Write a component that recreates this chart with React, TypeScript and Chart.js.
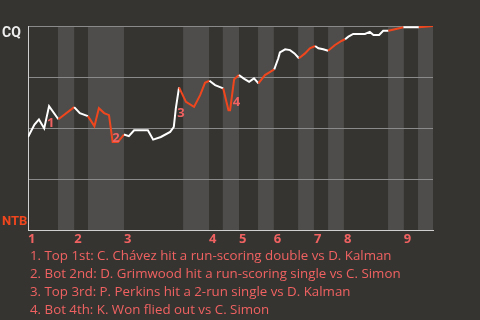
import React, { useEffect, useRef } from 'react';
import { Chart, registerables } from 'chart.js';

Chart.register(...registerables);

// progress through the game (0..100) of each play, and CQ win probability after it
const playX = [0, 1.6, 2.7, 4.0, 5.2, 7.5, 11.4, 12.8, 14.8, 16.4, 17.5, 18.8, 20.0, 20.9, 22.2, 23.7, 24.9, 26.2, 29.6, 30.9, 32.8, 35.1, 36.0, 36.5, 37.3, 39.0, 41.0, 42.5, 43.7, 44.8, 46.2, 48.2, 49.5, 49.9, 50.9, 52.1, 53.2, 54.6, 55.8, 56.9, 58.5, 59.8, 60.8, 61.8, 62.2, 63.5, 64.7, 65.8, 66.9, 68.4, 69.6, 70.9, 71.7, 72.9, 74.1, 75.8, 77.5, 78.3, 79.1, 80.3, 83.2, 84.4, 85.3, 86.7, 87.7, 89.0, 90.6, 92.7, 96.5, 100];
const winProb = [0.457, 0.518, 0.543, 0.499, 0.608, 0.544, 0.603, 0.574, 0.559, 0.510, 0.598, 0.574, 0.564, 0.433, 0.433, 0.469, 0.461, 0.490, 0.490, 0.444, 0.457, 0.482, 0.506, 0.597, 0.700, 0.629, 0.604, 0.662, 0.722, 0.732, 0.711, 0.695, 0.588, 0.588, 0.739, 0.760, 0.744, 0.727, 0.744, 0.719, 0.760, 0.776, 0.788, 0.842, 0.871, 0.886, 0.882, 0.866, 0.842, 0.866, 0.891, 0.902, 0.891, 0.886, 0.879, 0.907, 0.928, 0.935, 0.948, 0.961, 0.961, 0.971, 0.956, 0.956, 0.977, 0.977, 0.984, 0.994, 0.994, 1.0];
// half-inning of each play: T = top (CQ batting), B = bottom (NTB batting)
const battingHalf = ('TTTTTT' + 'B' + 'TT' + 'BBBBBBB' + 'TTTTTTTTT' + 'BBBBB' + 'TT' + 'BBBB' + 'TTTT' + 'BBB' + 'TTTTTT' + 'BBB' + 'TTT' + 'BBB' + 'TTTTTTTT' + 'BB' + 'T' + 'B').split('');

// bottom half-inning spans (shaded)
const bottomStart = [7.4, 14.8, 38.3, 48.1, 56.8, 66.7, 74.1, 88.9, 96.3];
const bottomEnd = [11.4, 23.7, 44.7, 52.1, 60.7, 70.6, 78.0, 92.8, 100];

// inning ticks
const inningStart = [0, 11.4, 23.7, 44.7, 52.1, 60.7, 70.6, 78.0, 92.8];
const inningLabels = ['1', '2', '3', '4', '5', '6', '7', '8', '9'];

// numbered annotations
const annNum = ['1', '2', '3', '4'];
const annX = [5.6, 21.7, 37.8, 51.5];
const annY = [0.522, 0.451, 0.574, 0.627];

const notes = [
  '1. Top 1st: C. Chávez hit a run-scoring double vs D. Kalman',
  '2. Bot 2nd: D. Grimwood hit a run-scoring single vs C. Simon',
  '3. Top 3rd: P. Perkins hit a 2-run single vs D. Kalman',
  '4. Bot 4th: K. Won flied out vs C. Simon',
];

const teamTop = 'CQ';
const teamBottom = 'NTB';

const BG = '#363430';
const BAND = '#4e4d4b';
const WHITE = '#ffffff';
const ORANGE = '#f0461e';
const CORAL = '#f06262';
const FONT = "'Open Sans', sans-serif";
const LABEL_FONT = "Roboto, sans-serif";

export default function App() {
  const ref = useRef<HTMLCanvasElement | null>(null);

  useEffect(() => {
    document.body.style.margin = '0';
    document.body.style.background = BG;
    const canvas = ref.current;
    if (!canvas) return;

    const bandsPlugin = {
      id: 'bands',
      beforeDraw(chart: any) {
        const { ctx, chartArea, scales } = chart;
        ctx.save();
        ctx.fillStyle = BAND;
        for (let i = 0; i < bottomStart.length; i++) {
          const x0 = scales.x.getPixelForValue(bottomStart[i]);
          const x1 = scales.x.getPixelForValue(bottomEnd[i]);
          ctx.fillRect(x0, chartArea.top, x1 - x0, chartArea.bottom - chartArea.top);
        }
        ctx.restore();
      },
      afterDatasetsDraw(chart: any) {
        const { ctx, scales } = chart;
        ctx.save();
        ctx.font = `bold 13px ${FONT}`;
        ctx.textAlign = 'center';
        ctx.textBaseline = 'middle';
        ctx.fillStyle = CORAL;
        for (let i = 0; i < annNum.length; i++) {
          ctx.fillText(annNum[i], scales.x.getPixelForValue(annX[i]), scales.y.getPixelForValue(annY[i]));
        }
        ctx.textAlign = 'left';
        ctx.font = `bold 14px ${LABEL_FONT}`;
        ctx.fillStyle = '#eeeeee';
        ctx.fillText(teamTop, 2, scales.y.getPixelForValue(1) + 7);
        ctx.fillStyle = ORANGE;
        ctx.font = `bold 13px ${LABEL_FONT}`;
        ctx.fillText(teamBottom, 2, scales.y.getPixelForValue(0) - 9);
        ctx.restore();
      },
    };

    const chart = new Chart(canvas, {
      type: 'line',
      data: {
        datasets: [
          {
            data: playX.map((x, i) => ({ x, y: winProb[i] })),
            borderColor: WHITE,
            borderWidth: 2,
            pointRadius: 0,
            tension: 0,
            segment: {
              borderColor: (c: any) => (battingHalf[c.p1DataIndex] === 'B' ? ORANGE : WHITE),
            },
          },
        ],
      },
      options: {
        animation: false,
        responsive: false,
        maintainAspectRatio: false,
        layout: { padding: { left: 28, top: 26, right: 47, bottom: 72 } },
        plugins: { legend: { display: false }, tooltip: { enabled: false } },
        scales: {
          x: {
            type: 'linear',
            min: 0,
            max: 100,
            grid: { display: false, drawTicks: false, tickLength: 0 },
            border: { display: true, color: '#cfcfcf', width: 1 },
            afterBuildTicks: (s: any) => {
              s.ticks = inningStart.map((v) => ({ value: v }));
            },
            ticks: {
              autoSkip: false,
              maxRotation: 0,
              align: 'start',
              padding: 1,
              color: CORAL,
              font: { family: FONT, size: 13, weight: 'bold' },
              callback: (_v: any, i: number) => inningLabels[i],
            },
          },
          y: {
            min: 0,
            max: 1,
            ticks: { display: false, stepSize: 0.25 },
            grid: { color: '#8a8a8a', drawTicks: false, tickLength: 0, lineWidth: 1 },
            border: { display: true, color: '#cfcfcf', width: 1 },
          },
        },
      },
      plugins: [bandsPlugin],
    } as any);

    return () => chart.destroy();
  }, []);

  return (
    <div style={{ position: 'relative', width: 480, height: 320, background: BG, overflow: 'hidden' }}>
      <canvas ref={ref} width={480} height={320} style={{ position: 'absolute', left: 0, top: 0, width: 480, height: 320 }} />
      <div
        style={{
          position: 'absolute',
          left: 30,
          top: 246,
          color: CORAL,
          fontFamily: FONT,
          fontSize: 13.3,
          lineHeight: '18px',
          whiteSpace: 'nowrap',
        }}
      >
        {notes.map((n, i) => (
          <div key={i}>{n}</div>
        ))}
      </div>
    </div>
  );
}
